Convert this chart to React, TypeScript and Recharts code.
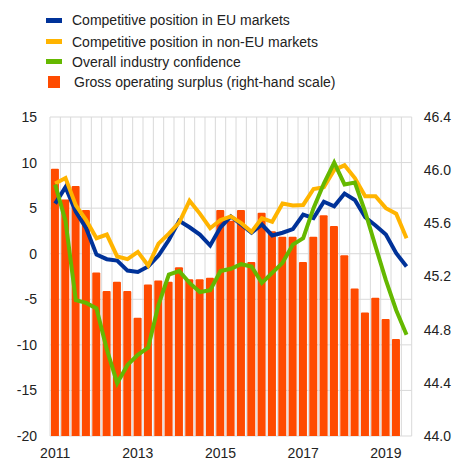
import React from 'react';
import { ComposedChart, Bar, Line, XAxis, YAxis, CartesianGrid } from 'recharts';

const quarters = [
  '2011Q1', '2011Q2', '2011Q3', '2011Q4',
  '2012Q1', '2012Q2', '2012Q3', '2012Q4',
  '2013Q1', '2013Q2', '2013Q3', '2013Q4',
  '2014Q1', '2014Q2', '2014Q3', '2014Q4',
  '2015Q1', '2015Q2', '2015Q3', '2015Q4',
  '2016Q1', '2016Q2', '2016Q3', '2016Q4',
  '2017Q1', '2017Q2', '2017Q3', '2017Q4',
  '2018Q1', '2018Q2', '2018Q3', '2018Q4',
  '2019Q1', '2019Q2', '2019Q3',
];

const euPosition = [
  5.5, 7.3, 4.6, 2.8, -0.1, -0.6, -0.75, -1.85, -2.0, -1.4, -0.2, 1.5,
  3.6, 2.9, 2.1, 0.9, 2.9, 4.1, 3.2, 2.3, 3.2, 2.0, 2.3, 2.7,
  4.3, 3.9, 5.7, 5.2, 6.6, 5.9, 4.0, 3.1, 2.1, 0.05, -1.4,
];

const nonEuPosition = [
  7.7, 8.3, 5.3, 3.7, 1.7, 2.1, -0.3, -0.6, 0.2, -1.3, 1.1, 2.2,
  3.4, 5.8, 4.4, 2.8, 3.7, 4.1, 3.35, 2.4, 3.9, 3.5, 5.5, 5.3,
  5.35, 7.1, 7.3, 9.2, 9.7, 8.3, 6.3, 6.3, 5.0, 4.4, 1.7,
];

const industryConfidence = [
  7.6, 3.6, -5.1, -5.4, -6.0, -10.5, -14.2, -12.2, -11.1, -10.3, -5.6, -2.3,
  -1.9, -3.2, -4.2, -4.0, -1.9, -1.65, -1.15, -1.4, -3.2, -2.1, -1.0, 1.0,
  1.7, 5.0, 7.7, 10.0, 7.6, 7.8, 4.6, 0.8, -2.9, -6.2, -8.9,
];

const grossOperatingSurplus: (number | null)[] = [
  46.01, 45.78, 45.88, 45.7, 45.23, 45.09, 45.16, 45.09, 44.89, 45.14, 45.17, 45.16,
  45.27, 45.18, 45.18, 45.19, 45.7, 45.62, 45.7, 45.31, 45.68, 45.54, 45.5, 45.5,
  45.31, 45.5, 45.66, 45.58, 45.36, 45.11, 44.93, 45.04, 44.88, 44.73, null,
];

const leftTicks = [-20, -15, -10, -5, 0, 5, 10, 15];
const rightTicks = [44.0, 44.4, 44.8, 45.2, 45.6, 46.0, 46.4];

const seriesNames = [
  'Competitive position in EU markets',
  'Competitive position in non-EU markets',
  'Overall industry confidence',
  'Gross operating surplus (right-hand scale)',
];

const COLORS = {
  eu: '#003299',
  nonEu: '#ffb400',
  conf: '#65b800',
  gos: '#ff4b00',
};

const data = quarters.map((q, i) => ({
  q,
  eu: euPosition[i],
  nonEu: nonEuPosition[i],
  conf: industryConfidence[i],
  gos: grossOperatingSurplus[i],
}));

const FONT = '"Liberation Sans", Arial, sans-serif';
const tickStyle = { fontSize: 14, fill: '#222', fontFamily: FONT };

const verticalGen = (props: any) => {
  const { offset } = props;
  const n = quarters.length;
  const out: number[] = [];
  for (let i = 0; i <= n; i++) out.push(offset.left + (offset.width * i) / n);
  return out;
};

const legendItems = [
  { name: seriesNames[0], color: COLORS.eu, kind: 'line', y: 20 },
  { name: seriesNames[1], color: COLORS.nonEu, kind: 'line', y: 41.5 },
  { name: seriesNames[2], color: COLORS.conf, kind: 'line', y: 61.5 },
  { name: seriesNames[3], color: COLORS.gos, kind: 'box', y: 82 },
];

export default function App() {
  return (
    <div
      style={{
        position: 'absolute',
        left: 0,
        top: 0,
        width: 455,
        height: 461,
        background: '#fff',
        fontFamily: FONT,
        overflow: 'hidden',
      }}
    >
      {legendItems.map((it) => (
        <div
          key={it.name}
          style={{
            position: 'absolute',
            left: 46,
            top: it.y - 10,
            height: 20,
            display: 'flex',
            alignItems: 'center',
            fontSize: 14,
            color: '#222',
            whiteSpace: 'nowrap',
          }}
        >
          {it.kind === 'line' ? (
            <span style={{ display: 'inline-block', width: 16, height: 5, background: it.color, marginRight: 10 }} />
          ) : (
            <span style={{ display: 'inline-block', width: 12, height: 12, background: it.color, marginLeft: 2, marginRight: 14 }} />
          )}
          <span>{it.name}</span>
        </div>
      ))}
      <ComposedChart
        width={455}
        height={461}
        data={data}
        margin={{ top: 117, right: 0, bottom: 0, left: 0 }}
        barCategoryGap="9%"
      >
        <CartesianGrid
          stroke="#d9d9d9"
          strokeWidth={1}
          verticalCoordinatesGenerator={verticalGen}
        />
        <XAxis
          dataKey="q"
          interval={7}
          tickFormatter={(v: string) => v.slice(0, 4)}
          axisLine={false}
          tickLine={false}
          tickMargin={6}
          height={25}
          tick={tickStyle}
        />
        <YAxis
          domain={[-20, 15]}
          ticks={leftTicks}
          interval={0}
          axisLine={false}
          tickLine={false}
          tickMargin={7}
          width={50}
          tick={tickStyle}
          allowDataOverflow
        />
        <YAxis
          yAxisId="right"
          orientation="right"
          domain={[44, 46.4]}
          ticks={rightTicks}
          interval={0}
          tickFormatter={(v: number) => v.toFixed(1)}
          axisLine={false}
          tickLine={false}
          tickMargin={6}
          width={43.3}
          tick={tickStyle}
          allowDataOverflow
        />
        <Bar
          yAxisId="right"
          dataKey="gos"
          name={seriesNames[3]}
          fill={COLORS.gos}
          radius={[1, 1, 0, 0]}
          isAnimationActive={false}
        />
        <Line
          type="linear"
          dataKey="eu"
          name={seriesNames[0]}
          stroke={COLORS.eu}
          strokeWidth={4}
          dot={false}
          activeDot={false}
          isAnimationActive={false}
        />
        <Line
          type="linear"
          dataKey="nonEu"
          name={seriesNames[1]}
          stroke={COLORS.nonEu}
          strokeWidth={4}
          dot={false}
          activeDot={false}
          isAnimationActive={false}
        />
        <Line
          type="linear"
          dataKey="conf"
          name={seriesNames[2]}
          stroke={COLORS.conf}
          strokeWidth={4}
          dot={false}
          activeDot={false}
          isAnimationActive={false}
        />
      </ComposedChart>
    </div>
  );
}
